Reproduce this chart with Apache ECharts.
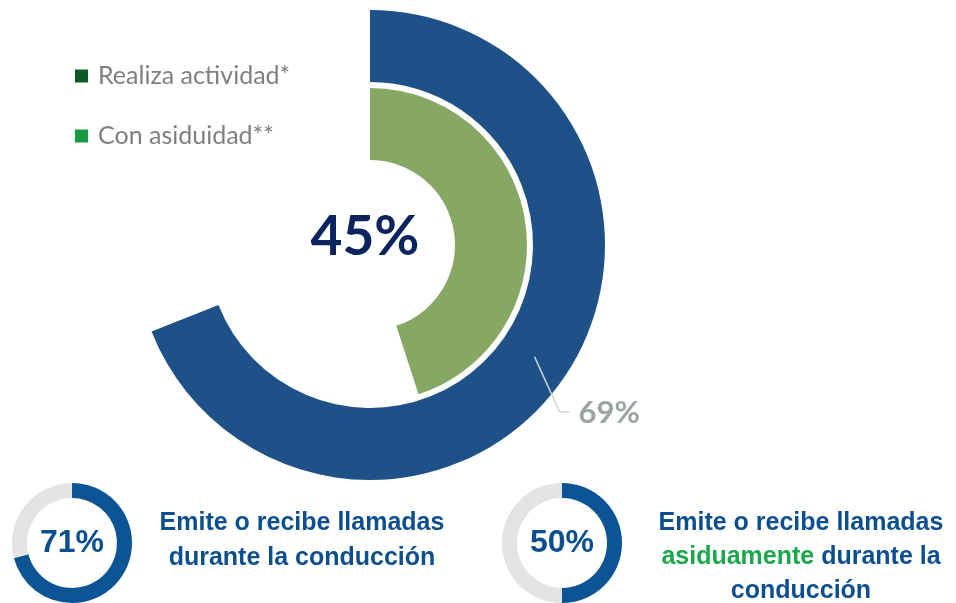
<!DOCTYPE html>
<html lang="es">
<head>
    <meta charset="UTF-8">
    <title>Uso del móvil durante la conducción</title>
    <script type="text/javascript" src="https://cdn.jsdelivr.net/npm/echarts@6/dist/echarts.min.js"></script>
    <style>
        html, body { margin: 0; padding: 0; background: #fff; }
        #chart { width: 956px; height: 603px; }
    </style>
</head>
<body>
<div id="chart"></div>
<script type="text/javascript">
    // datos en %
    const serieNombres = ['Realiza actividad*', 'Con asiduidad**'];
    const realizaActividad = [69];
    const conAsiduidad = [45];
    const llamadas = [71, 50];

    // geometria del anillo principal
    const centro = [370, 245];
    const radioExterior = [163, 235];
    const radioInterior = [85, 157];

    function anillo(valor, nombre, color) {
        return [
            {name: nombre, value: valor, itemStyle: {color: color}},
            {name: 'resto ' + nombre, value: 100 - valor, itemStyle: {color: 'transparent'},
                label: {show: false}}
        ];
    }

    // linea guia del 69%: sale del centro del sector (angulo medio) hacia abajo
    function puntosGuia() {
        let ang = (90 - realizaActividad[0] / 100 * 360 / 2) * Math.PI / 180;
        let rMedio = (radioExterior[0] + radioExterior[1]) / 2;
        let p0 = [centro[0] + rMedio * Math.cos(ang), centro[1] - rMedio * Math.sin(ang)];
        let p1 = [p0[0] + 25, p0[1] + 55];
        let p2 = [p1[0] + 10, p1[1]];
        return [p0, p1, p2];
    }

    function etiquetaExterior(params) {
        let p = puntosGuia();
        return {
            x: p[2][0] + 9,
            y: p[2][1] + 1,
            align: 'left',
            verticalAlign: 'middle'
        };
    }

    function pequeno(valor, cx) {
        return {
            type: 'pie',
            center: [cx, 543],
            radius: [45, 60],
            startAngle: 90,
            clockwise: true,
            silent: true,
            label: {show: false},
            labelLine: {show: false},
            data: [
                {value: valor, itemStyle: {color: '#0c5496'},
                    label: {show: true, position: 'center', formatter: '{c}%',
                        color: '#0b4f91', fontSize: 32, fontWeight: 'bold', fontFamily: 'Liberation Sans'}},
                {value: 100 - valor, itemStyle: {color: '#e3e3e3'}}
            ]
        };
    }

    let option = {
        animation: false,
        legend: {
            orient: 'vertical',
            left: 70,
            top: 58,
            icon: 'rect',
            itemWidth: 13,
            itemHeight: 13,
            itemGap: 34,
            selectedMode: false,
            data: [
                {name: serieNombres[0], itemStyle: {color: '#0b5a26'}},
                {name: serieNombres[1], itemStyle: {color: '#1a9a3f'}}
            ],
            textStyle: {
                color: '#7f7f7f',
                fontSize: 25,
                lineHeight: 26,
                fontFamily: 'Lato',
                padding: [0, 0, 0, 5]
            }
        },
        graphic: [
            {
                type: 'polyline', z: 100, silent: true,
                shape: {points: puntosGuia()},
                style: {stroke: '#cdd4d1', lineWidth: 1.5, fill: null}
            },
            {
                type: 'text', x: 365, y: 237,
                style: {
                    text: conAsiduidad[0] + '%',
                    textAlign: 'center', textVerticalAlign: 'middle',
                    fill: '#0b2460', font: 'bold 55px Lato'
                }
            },
            {
                type: 'text', x: 302, y: 541,
                style: {
                    text: '{b|Emite o recibe llamadas}\n{b|durante la conducción}',
                    textAlign: 'center', textVerticalAlign: 'middle',
                    rich: {
                        b: {fill: '#0b4f91', fontSize: 25, fontWeight: 'bold', fontFamily: 'Liberation Sans', lineHeight: 35}
                    }
                }
            },
            {
                type: 'text', x: 801, y: 557,
                style: {
                    text: '{b|Emite o recibe llamadas}\n{g|asiduamente}{b| durante la}\n{b|conducción}',
                    textAlign: 'center', textVerticalAlign: 'middle',
                    rich: {
                        b: {fill: '#0b4f91', fontSize: 25, fontWeight: 'bold', fontFamily: 'Liberation Sans', lineHeight: 34},
                        g: {fill: '#1aa84a', fontSize: 25, fontWeight: 'bold', fontFamily: 'Liberation Sans', lineHeight: 34}
                    }
                }
            }
        ],
        series: [
            {
                type: 'pie',
                center: centro,
                radius: radioExterior,
                startAngle: 90,
                clockwise: true,
                silent: true,
                avoidLabelOverlap: false,
                label: {
                    show: true,
                    position: 'outside',
                    formatter: '{c}%',
                    color: '#9aa5a3',
                    fontSize: 31,
                    fontWeight: 'bold',
                    fontFamily: 'Lato'
                },
                labelLine: {show: false},
                labelLayout: etiquetaExterior,
                data: anillo(realizaActividad[0], serieNombres[0], '#1f5189')
            },
            {
                type: 'pie',
                center: centro,
                radius: radioInterior,
                startAngle: 90,
                clockwise: true,
                silent: true,
                label: {show: false},
                labelLine: {show: false},
                data: anillo(conAsiduidad[0], serieNombres[1], '#86a864')
            },
            pequeno(llamadas[0], 72),
            pequeno(llamadas[1], 562)
        ]
    };

    echarts.init(document.getElementById('chart')).setOption(option);
</script>
</body>
</html>
